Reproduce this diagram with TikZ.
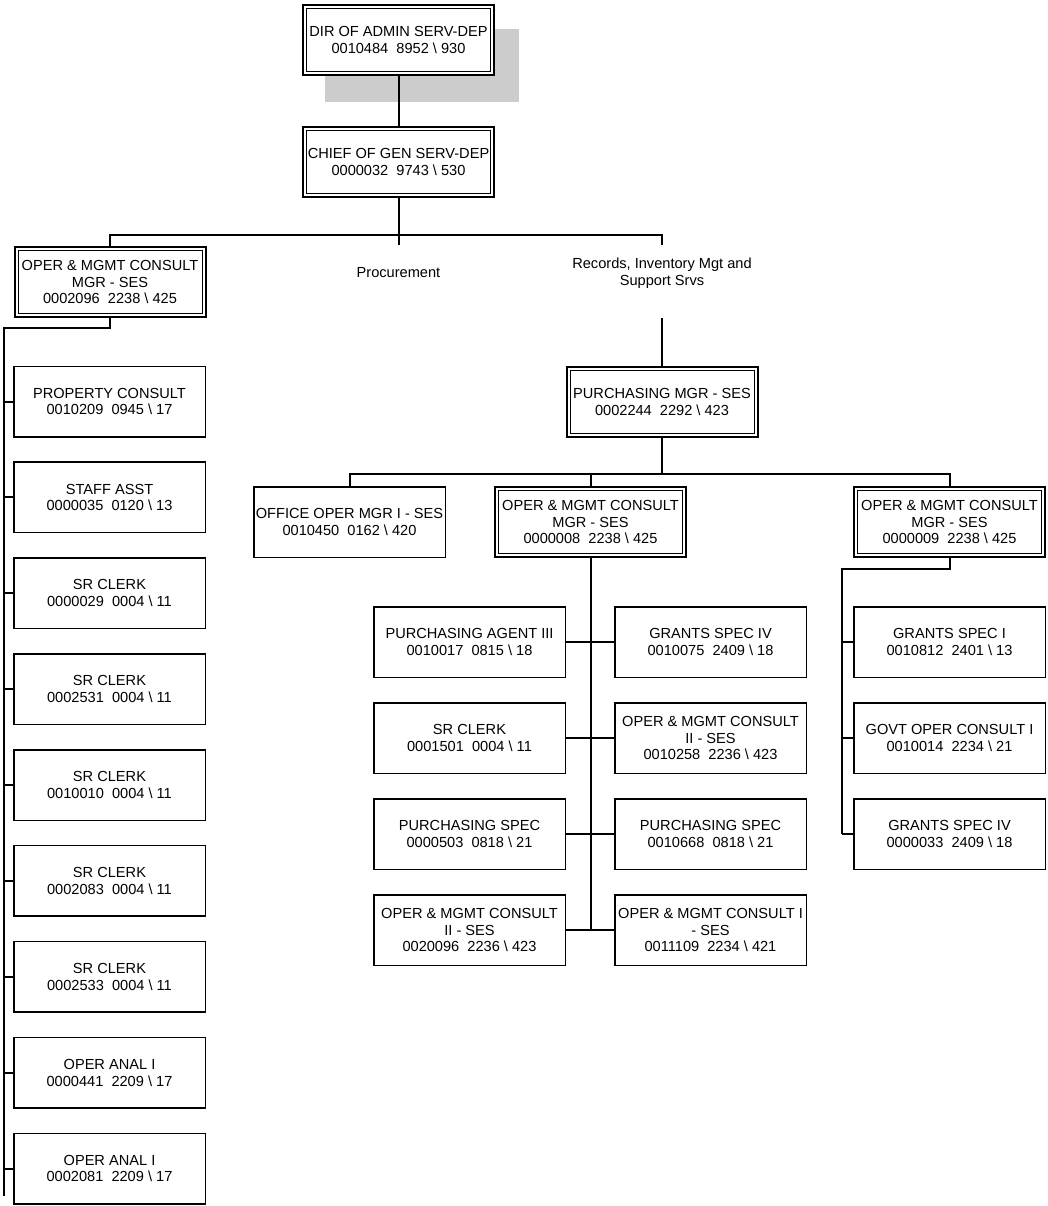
\documentclass[tikz,border=0pt]{standalone}
\usepackage{fontspec}
\setmainfont{Liberation Sans}

% position code: number, class, grade
\newcommand\PosCode[3]{#1\ \ #2 \textbackslash{} #3}

\begin{document}
\begin{tikzpicture}[x=1pt,y=1pt,
  every node/.style={font=\fontsize{14.6}{16.8}\selectfont, inner sep=1pt},
  box/.style={draw, line width=1.5pt, fill=white, align=center,
    minimum width=191.5pt, minimum height=70.5pt},
  dbox/.style={box, line width=2pt, minimum width=191pt, minimum height=70pt,
    path picture={\draw[line width=1pt]
      ([shift={(3.5pt,3.5pt)}]path picture bounding box.south west) rectangle
      ([shift={(-3.5pt,-3.5pt)}]path picture bounding box.north east);}},
  lbl/.style={align=center},
  link/.style={line width=2pt},
]
\useasboundingbox (0,0) rectangle (1048,-1206);

% shadow block behind the top position
\fill[black!20] (325,-29) rectangle (519,-102);

% top of the chain
\node[dbox] (dir) at (398.5,-40) {DIR OF ADMIN SERV-DEP\\\PosCode{0010484}{8952}{930}};
\node[dbox] (chief) at (398.5,-162) {CHIEF OF GEN SERV-DEP\\\PosCode{0000032}{9743}{530}};

\node[dbox] (opmA) at (110,-282) {OPER \& MGMT CONSULT\\MGR - SES\\\PosCode{0002096}{2238}{425}};
\node[lbl] (proc) at (398.5,-273) {Procurement};
\node[lbl] (recs) at (662,-273) {Records, Inventory Mgt and\\Support Srvs};
\coordinate (procTop) at (398.5,-245);
\coordinate (recsTop) at (662,-245);
\coordinate (recsBot) at (662,-318);

\draw[link] (dir.south) -- (chief.north);
\draw[link] (chief.south) -- (procTop);
\draw[link] (opmA.north) -- ++(0,11) -| (recsTop);

% purchasing unit
\node[dbox] (purch) at (662,-402) {PURCHASING MGR - SES\\\PosCode{0002244}{2292}{423}};
\draw[link] (recsBot) -- (purch.north);

\node[box] (office) at (349.5,-522) {OFFICE OPER MGR I - SES\\\PosCode{0010450}{0162}{420}};
\node[dbox] (opmB) at (590.5,-522) {OPER \& MGMT CONSULT\\MGR - SES\\\PosCode{0000008}{2238}{425}};
\node[dbox] (opmC) at (949.5,-522) {OPER \& MGMT CONSULT\\MGR - SES\\\PosCode{0000009}{2238}{425}};
\coordinate (barB) at (662,-474);
\draw[link] (office.north) -- ++(0,12) -| (opmC.north);
\draw[link] (purch.south) -- (barB);
\draw[link] (opmB.north) -- ++(0,12);

% staff under the left manager
\node[box] (a1) at (109.5,-401.5) {PROPERTY CONSULT\\\PosCode{0010209}{0945}{17}};
\node[box] (a2) at (109.5,-497.4) {STAFF ASST\\\PosCode{0000035}{0120}{13}};
\node[box] (a3) at (109.5,-593.3) {SR CLERK\\\PosCode{0000029}{0004}{11}};
\node[box] (a4) at (109.5,-689.1) {SR CLERK\\\PosCode{0002531}{0004}{11}};
\node[box] (a5) at (109.5,-785.0) {SR CLERK\\\PosCode{0010010}{0004}{11}};
\node[box] (a6) at (109.5,-880.9) {SR CLERK\\\PosCode{0002083}{0004}{11}};
\node[box] (a7) at (109.5,-976.8) {SR CLERK\\\PosCode{0002533}{0004}{11}};
\node[box] (a8) at (109.5,-1072.6) {OPER ANAL I\\\PosCode{0000441}{2209}{17}};
\node[box] (a9) at (109.5,-1168.5) {OPER ANAL I\\\PosCode{0002081}{2209}{17}};
\coordinate (acol) at (3.5,-1196);
\draw[link] (opmA.south) -- ++(0,-10) -| (acol);
\foreach \n in {a1,a2,a3,a4,a5,a6,a7,a8,a9}
  \draw[link] (\n.west) -- (\n.west -| acol);

% staff under the middle manager
\node[box] (b1) at (469.5,-642) {PURCHASING AGENT III\\\PosCode{0010017}{0815}{18}};
\node[box] (c1) at (710.5,-642) {GRANTS SPEC IV\\\PosCode{0010075}{2409}{18}};
\node[box] (b2) at (469.5,-738) {SR CLERK\\\PosCode{0001501}{0004}{11}};
\node[box] (c2) at (710.5,-738) {OPER \& MGMT CONSULT\\II - SES\\\PosCode{0010258}{2236}{423}};
\node[box] (b3) at (469.5,-834) {PURCHASING SPEC\\\PosCode{0000503}{0818}{21}};
\node[box] (c3) at (710.5,-834) {PURCHASING SPEC\\\PosCode{0010668}{0818}{21}};
\node[box] (b4) at (469.5,-930) {OPER \& MGMT CONSULT\\II - SES\\\PosCode{0020096}{2236}{423}};
\node[box] (c4) at (710.5,-930) {OPER \& MGMT CONSULT I\\- SES\\\PosCode{0011109}{2234}{421}};
\draw[link] (opmB.south) -- (opmB.south |- b4.east);
\foreach \i in {1,2,3,4}
  \draw[link] (b\i.east) -- (c\i.west);

% staff under the right manager
\node[box] (d1) at (949.5,-642) {GRANTS SPEC I\\\PosCode{0010812}{2401}{13}};
\node[box] (d2) at (949.5,-738) {GOVT OPER CONSULT I\\\PosCode{0010014}{2234}{21}};
\node[box] (d3) at (949.5,-834) {GRANTS SPEC IV\\\PosCode{0000033}{2409}{18}};
\coordinate (dcol) at (842,-834);
\draw[link] (opmC.south) -- ++(0,-11) -| (dcol);
\foreach \n in {d1,d2,d3}
  \draw[link] (\n.west) -- (\n.west -| dcol);
\end{tikzpicture}
\end{document}
